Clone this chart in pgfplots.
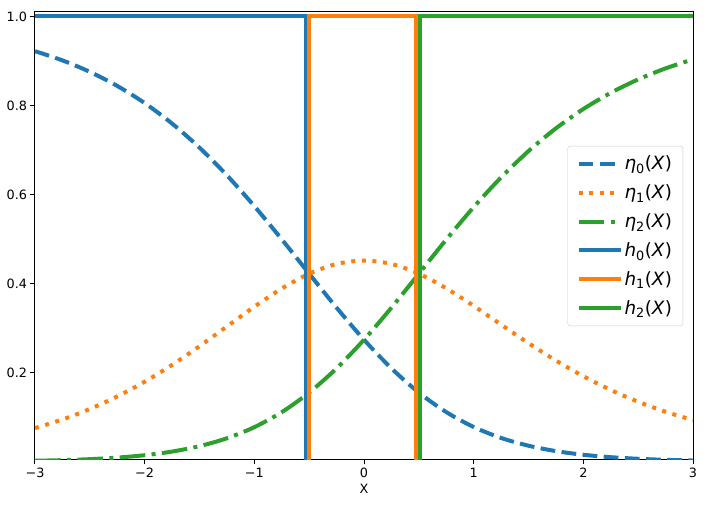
\documentclass[border=0pt]{standalone}
\usepackage{fontspec}
\setmainfont{DejaVu Sans}
\usepackage{pgfplots}
\pgfplotsset{compat=1.18}

\definecolor{c0}{HTML}{1F77B4}
\definecolor{c1}{HTML}{FF7F0E}
\definecolor{c2}{HTML}{2CA02C}

% posterior curves
\pgfplotstableread{
x      e0       e1       e2
-3.00  0.92203  0.07569  0.00229
-2.75  0.90132  0.09500  0.00368
-2.50  0.87560  0.11850  0.00590
-2.25  0.84397  0.14666  0.00938
-2.00  0.80551  0.17973  0.01475
-1.75  0.75946  0.21759  0.02293
-1.50  0.70539  0.25950  0.03512
-1.25  0.64331  0.30388  0.05281
-1.00  0.57409  0.34821  0.07770
-0.75  0.49952  0.38902  0.11146
-0.50  0.42232  0.42232  0.15536
-0.25  0.34595  0.44421  0.20983
 0.00  0.27407  0.45186  0.27407
 0.25  0.20983  0.44421  0.34595
 0.50  0.15536  0.42232  0.42232
 0.75  0.11159  0.38947  0.49894
 1.00  0.07811  0.35006  0.57183
 1.25  0.05351  0.30795  0.63853
 1.50  0.03604  0.26632  0.69763
 1.75  0.02396  0.22729  0.74875
 2.00  0.01577  0.19209  0.79214
 2.25  0.01031  0.16124  0.82845
 2.50  0.00671  0.13472  0.85857
 2.75  0.00435  0.11228  0.88336
 3.00  0.00282  0.09348  0.90370
}\etatable

\begin{document}
\begin{tikzpicture}
\begin{axis}[
    scale only axis,
    width=658pt, height=448pt,
    xmin=-3, xmax=3,
    ymin=0.004, ymax=1.01,
    xtick={-3,-2,-1,0,1,2,3},
    xticklabels={−3,−2,−1,0,1,2,3},
    ytick={0.2,0.4,0.6,0.8,1.0},
    yticklabels={0.2,0.4,0.6,0.8,1.0},
    tick pos=left,
    tick align=outside,
    major tick length=4.5pt,
    tick style={black, line width=1pt},
    axis line style={line width=1pt},
    ticklabel style={font=\fontsize{12.8}{15}\selectfont},
    xlabel={X},
    xlabel style={font=\fontsize{12.8}{15}\selectfont},
    legend cell align=left,
    legend style={at={(0.985,0.5)}, anchor=east,
        draw=black!20, fill=white, fill opacity=0.8, text opacity=1,
        rounded corners=3pt,
        font=\fontsize{18.3}{22}\selectfont,
        row sep=9.5pt, inner xsep=9pt, inner ysep=8pt},
    legend image code/.code={\draw[#1] (0pt,0pt) -- (42pt,0pt);},
]
\addplot[c0, line width=4pt, dash pattern=on 14.8pt off 6.4pt, smooth] table[x=x, y=e0]{\etatable};
\addlegendentry{\textit{η}\textsubscript{0}(\textit{X})}
\addplot[c1, line width=4pt, dash pattern=on 4pt off 6.6pt, smooth] table[x=x, y=e1]{\etatable};
\addlegendentry{\textit{η}\textsubscript{1}(\textit{X})}
\addplot[c2, line width=4pt, dash pattern=on 25.6pt off 6.4pt on 4pt off 6.4pt, smooth] table[x=x, y=e2]{\etatable};
\addlegendentry{\textit{η}\textsubscript{2}(\textit{X})}
\addplot[c0, line width=4pt] coordinates {(-3,1) (-0.53,1) (-0.53,0) (3,0)};
\addlegendentry{\textit{h}\textsubscript{0}(\textit{X})}
\addplot[c1, line width=4pt] coordinates {(-3,0) (-0.50,0) (-0.50,1) (0.47,1) (0.47,0) (3,0)};
\addlegendentry{\textit{h}\textsubscript{1}(\textit{X})}
\addplot[c2, line width=4pt] coordinates {(-3,0) (0.507,0) (0.507,1) (3,1)};
\addlegendentry{\textit{h}\textsubscript{2}(\textit{X})}
\end{axis}
\path ([shift={(-35pt,-45pt)}]current axis.south west) rectangle ([shift={(13pt,12pt)}]current axis.north east);
\end{tikzpicture}
\end{document}
